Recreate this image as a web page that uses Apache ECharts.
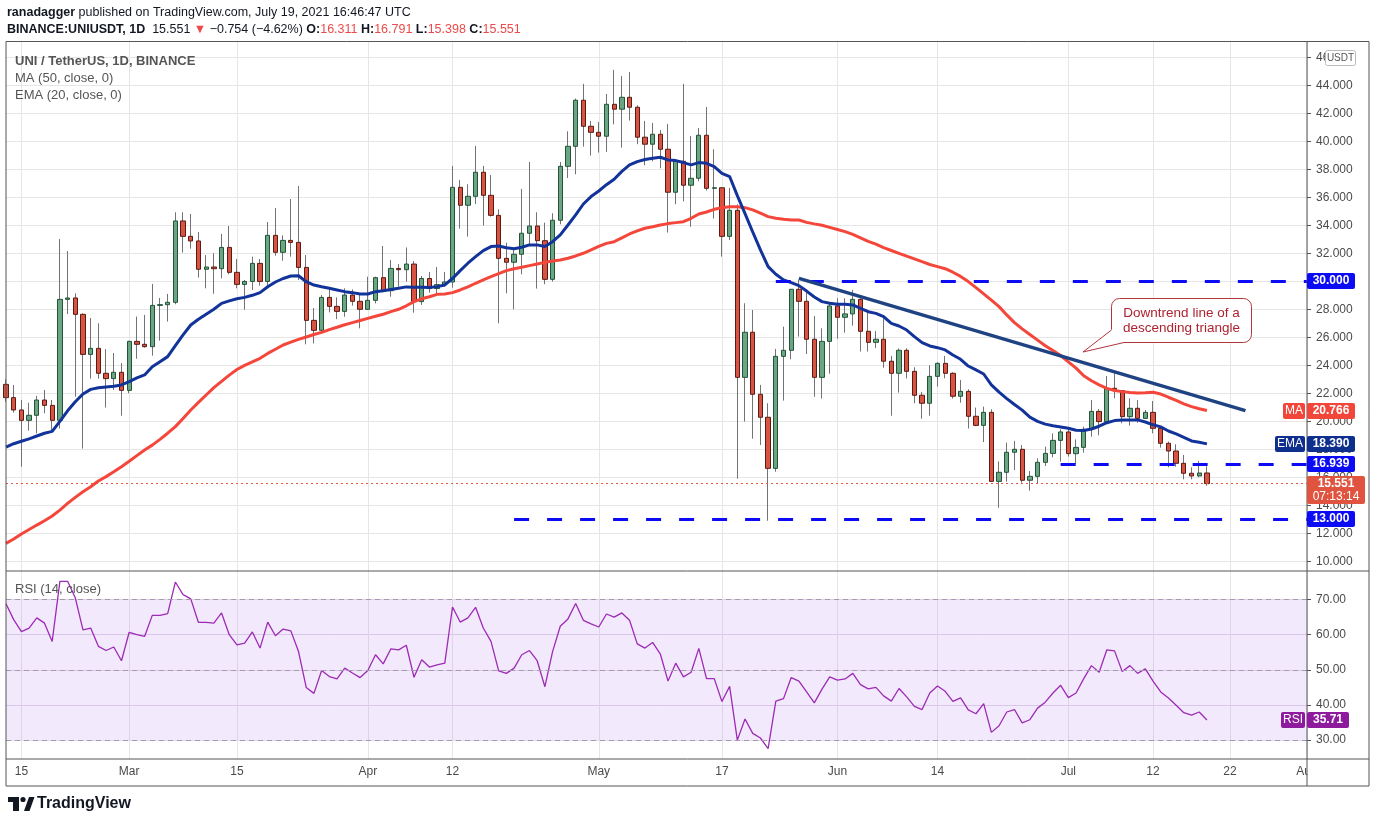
<!DOCTYPE html>
<html>
<head>
<meta charset="utf-8">
<title>UNI / TetherUS, 1D, BINANCE</title>
<script src="https://cdn.jsdelivr.net/npm/echarts@6/dist/echarts.min.js"></script>
<style>
html, body { margin: 0; padding: 0; background: #fff; }
#main { width: 1376px; height: 823px; }
</style>
</head>
<body>
<div id="main"></div>
<script>
// daily UNI/USDT candles, 2021-02-13 .. 2021-07-19
const opens = [
  22.64, 21.69, 20.81, 20.07, 20.43, 21.52, 21.14, 20.07, 28.71, 28.81,
  27.64, 24.78, 25.21, 23.43, 23.05, 23.5, 22.21, 25.71, 25.5, 25.33,
  28.28, 28.33, 28.5, 34.31, 33.21, 32.88, 30.86, 31.02, 30.9, 32.42,
  30.64, 29.78, 29.99, 31.28, 29.99, 33.28, 32.07, 32.92, 32.78, 30.99,
  27.21, 26.5, 28.85, 28.21, 27.85, 29.02, 28.57, 28.0, 28.64, 30.26,
  29.33, 30.92, 30.83, 31.23, 28.55, 30.2, 29.48, 29.76, 29.95, 36.71,
  35.43, 36.07, 37.79, 36.14, 34.71, 31.64, 31.36, 31.93, 33.43, 33.95,
  32.9, 30.14, 34.36, 38.21, 39.64, 42.93, 41.07, 40.64, 40.36, 42.64,
  42.29, 43.14, 42.43, 40.29, 39.79, 40.5, 39.43, 36.36, 38.57, 36.86,
  37.36, 40.43, 36.64, 36.68, 33.21, 35.07, 23.14, 26.36, 21.93, 20.29,
  16.64, 24.64, 25.07, 29.43, 28.57, 25.86, 23.14, 25.71, 28.24, 27.43,
  27.67, 28.71, 26.43, 25.64, 25.86, 24.29, 23.43, 25.07, 23.57, 21.86,
  21.29, 23.21, 24.14, 23.43, 21.79, 22.14, 20.36, 19.71, 20.64, 15.71,
  16.36, 17.79, 18.0, 15.79, 16.07, 17.07, 17.71, 18.64, 19.24, 17.69,
  18.14, 19.43, 20.71, 19.98, 22.36, 22.19, 20.33, 20.93, 20.21, 20.64,
  19.5, 18.43, 17.88, 17.0, 16.29, 16.1, 16.311
];
const closes = [
  21.69, 20.81, 20.07, 20.43, 21.52, 21.14, 20.07, 28.71, 28.81, 27.64,
  24.78, 25.21, 23.43, 23.05, 23.5, 22.21, 25.71, 25.5, 25.33, 28.28,
  28.33, 28.5, 34.31, 33.21, 32.88, 30.86, 31.02, 30.9, 32.42, 30.64,
  29.78, 29.99, 31.28, 29.99, 33.28, 32.07, 32.92, 32.78, 30.99, 27.21,
  26.5, 28.85, 28.21, 27.85, 29.02, 28.57, 28.0, 28.64, 30.26, 29.33,
  30.92, 30.83, 31.23, 28.55, 30.2, 29.48, 29.76, 29.95, 36.71, 35.43,
  36.07, 37.79, 36.14, 34.71, 31.64, 31.36, 31.93, 33.43, 33.95, 32.9,
  30.14, 34.36, 38.21, 39.64, 42.93, 41.07, 40.64, 40.36, 42.64, 42.29,
  43.14, 42.43, 40.29, 39.79, 40.5, 39.43, 36.36, 38.57, 36.86, 37.36,
  40.43, 36.64, 36.68, 33.21, 35.07, 23.14, 26.36, 21.93, 20.29, 16.64,
  24.64, 25.07, 29.43, 28.57, 25.86, 23.14, 25.71, 28.24, 27.43, 27.67,
  28.71, 26.43, 25.64, 25.86, 24.29, 23.43, 25.07, 23.57, 21.86, 21.29,
  23.21, 24.14, 23.43, 21.79, 22.14, 20.36, 19.71, 20.64, 15.71, 16.36,
  17.79, 18.0, 15.79, 16.07, 17.07, 17.71, 18.64, 19.24, 17.69, 18.14,
  19.43, 20.71, 19.98, 22.36, 22.19, 20.33, 20.93, 20.21, 20.64, 19.5,
  18.43, 17.88, 17.0, 16.29, 16.1, 16.311, 15.551
];
const lows = [
  21.4, 20.62, 16.76, 19.33, 19.14, 20.57, 19.33, 19.48, 27.66, 21.76,
  18.05, 23.05, 23.05, 20.98, 22.24, 20.4, 22.0, 24.47, 25.26, 24.69,
  25.76, 27.12, 28.36, 32.05, 32.33, 30.26, 29.5, 29.11, 30.21, 30.5,
  29.5, 27.97, 29.38, 29.69, 29.5, 31.83, 31.47, 31.76, 30.09, 25.5,
  25.57, 26.45, 27.78, 27.3, 27.47, 28.26, 26.64, 27.95, 28.42, 29.3,
  28.9, 29.61, 29.97, 27.76, 28.31, 29.19, 29.14, 29.62, 29.55, 33.76,
  33.19, 35.52, 33.98, 34.62, 27.0, 29.14, 28.0, 30.5, 32.57, 29.48,
  29.79, 29.98, 34.07, 37.38, 37.64, 39.62, 38.98, 39.19, 39.24, 41.21,
  39.55, 41.48, 39.79, 38.29, 38.57, 38.07, 33.48, 35.5, 35.71, 33.9,
  37.14, 36.48, 34.48, 31.76, 32.95, 15.9, 19.98, 18.76, 18.31, 12.9,
  16.4, 21.48, 24.43, 26.05, 24.81, 21.76, 21.62, 23.4, 25.9, 26.33,
  26.83, 24.98, 24.98, 25.24, 23.83, 20.4, 22.05, 23.07, 21.29, 20.19,
  20.4, 22.48, 23.07, 21.62, 21.33, 19.48, 19.65, 18.52, 15.69, 13.83,
  15.69, 16.52, 15.62, 15.05, 15.57, 16.81, 17.43, 17.12, 17.48, 16.93,
  17.76, 18.9, 19.0, 19.86, 21.64, 19.86, 19.69, 19.9, 20.18, 19.14,
  18.12, 16.71, 16.76, 15.86, 15.86, 16.0, 15.398
];
const highs = [
  23.0, 22.6, 21.52, 21.33, 21.81, 22.24, 21.52, 33.02, 32.16, 29.14,
  27.71, 27.38, 27.0, 25.16, 24.88, 24.16, 25.75, 27.48, 27.6, 29.81,
  28.81, 29.1, 34.93, 34.93, 34.81, 33.52, 31.88, 32.0, 33.38, 33.95,
  31.59, 30.09, 31.76, 31.59, 34.23, 35.23, 33.28, 35.88, 36.8, 31.88,
  28.09, 29.02, 29.54, 28.85, 29.5, 29.42, 29.02, 30.33, 30.33, 32.52,
  31.52, 31.23, 32.42, 31.45, 30.38, 30.67, 31.02, 30.67, 38.24, 37.24,
  36.93, 39.67, 38.24, 37.6, 35.14, 32.76, 32.29, 36.6, 38.52, 34.93,
  34.19, 34.86, 38.52, 40.71, 43.05, 44.1, 41.45, 41.38, 43.38, 45.1,
  44.67, 44.95, 42.57, 41.45, 41.31, 40.81, 41.24, 38.6, 44.1, 40.38,
  40.95, 42.45, 39.43, 36.7, 36.67, 35.5, 28.43, 27.95, 22.6, 21.29,
  25.17, 26.76, 29.45, 30.1, 29.38, 27.52, 26.64, 28.43, 28.79, 28.79,
  29.38, 28.79, 27.79, 26.45, 27.36, 24.67, 25.21, 25.21, 23.86, 22.1,
  24.0, 24.21, 24.67, 23.5, 22.95, 22.29, 20.98, 21.05, 20.86, 17.14,
  18.48, 18.6, 18.31, 16.45, 17.36, 18.19, 19.14, 19.43, 19.38, 18.71,
  19.62, 21.52, 20.88, 23.24, 23.43, 22.2, 21.64, 21.52, 20.81, 21.45,
  19.62, 18.55, 18.36, 17.6, 16.71, 17.17, 16.791
];
const ma50 = [
  11.28, 11.6, 11.95, 12.27, 12.59, 12.9, 13.24, 13.66, 14.14, 14.57,
  14.97, 15.33, 15.74, 16.05, 16.4, 16.76, 17.15, 17.55, 17.95, 18.3,
  18.71, 19.15, 19.62, 20.2, 20.81, 21.35, 21.88, 22.4, 22.85, 23.3,
  23.7, 24.0, 24.25, 24.5, 24.85, 25.15, 25.45, 25.65, 25.85, 26.02,
  26.2, 26.35, 26.55, 26.72, 26.9, 27.05, 27.2, 27.35, 27.5, 27.65,
  27.83, 28.0, 28.25, 28.55, 28.75, 28.9, 29.07, 29.1, 29.19, 29.38,
  29.6, 29.86, 30.1, 30.33, 30.55, 30.76, 30.9, 31.0, 31.12, 31.24,
  31.35, 31.45, 31.52, 31.65, 31.81, 32.0, 32.24, 32.5, 32.71, 32.83,
  33.1, 33.38, 33.6, 33.79, 33.9, 34.02, 34.12, 34.19, 34.26, 34.5,
  34.81, 34.95, 35.14, 35.25, 35.33, 35.33, 35.26, 35.1, 34.86, 34.62,
  34.5, 34.43, 34.38, 34.38, 34.21, 34.1, 34.0, 33.85, 33.7, 33.55,
  33.35, 33.1, 32.85, 32.65, 32.4, 32.2, 32.0, 31.8, 31.6, 31.4,
  31.2, 31.05, 30.9, 30.65, 30.35, 29.98, 29.55, 29.1, 28.65, 28.19,
  27.6, 27.05, 26.6, 26.2, 25.8, 25.4, 25.05, 24.7, 24.25, 23.8,
  23.25, 22.9, 22.6, 22.35, 22.2, 22.12, 22.06, 22.02, 22.04, 22.07,
  21.95, 21.72, 21.5, 21.25, 21.05, 20.9, 20.77
];
const ema20 = [
  18.15, 18.4, 18.58, 18.75, 18.95, 19.15, 19.28, 20.0, 20.75, 21.4,
  21.95, 22.28, 22.4, 22.45, 22.5, 22.6, 22.83, 23.1, 23.31, 23.9,
  24.26, 24.62, 25.4, 26.17, 26.88, 27.29, 27.65, 28.0, 28.42, 28.6,
  28.75, 28.85, 29.0, 29.19, 29.61, 29.95, 30.2, 30.38, 30.4, 29.97,
  29.73, 29.61, 29.5, 29.38, 29.26, 29.19, 29.09, 29.09, 29.26, 29.33,
  29.42, 29.5, 29.6, 29.57, 29.57, 29.55, 29.62, 29.74, 30.2, 30.76,
  31.29, 31.76, 32.19, 32.48, 32.52, 32.4, 32.33, 32.43, 32.6, 32.6,
  32.48, 32.83, 33.31, 34.02, 34.74, 35.52, 36.05, 36.45, 36.9, 37.29,
  37.85, 38.31, 38.55, 38.7, 38.79, 38.86, 38.67, 38.62, 38.48, 38.31,
  38.48, 38.43, 38.19, 37.71, 37.48, 36.12, 34.83, 33.52, 32.24, 31.05,
  30.5, 30.1, 29.9, 29.69, 29.3, 28.88, 28.55, 28.43, 28.36, 28.36,
  28.31, 28.07, 27.83, 27.71, 27.48, 27.0, 26.81, 26.52, 26.05, 25.62,
  25.38, 25.26, 25.1, 24.74, 24.43, 23.95, 23.67, 23.38, 22.6, 22.08,
  21.62, 21.2, 20.8, 20.3, 20.0, 19.8, 19.68, 19.6, 19.5, 19.36,
  19.35, 19.45, 19.65, 19.9, 20.05, 20.1, 20.1, 20.1, 19.95, 19.75,
  19.6, 19.31, 19.1, 18.85, 18.6, 18.5, 18.39
];
const rsi14 = [
  68.8, 64.3, 60.9, 61.9, 64.8, 63.3, 58.1, 75.2, 75.2, 70.5,
  61.4, 61.9, 56.7, 55.5, 56.5, 52.6, 60.7, 60.0, 59.5, 65.5,
  65.5, 66.0, 75.0, 71.4, 70.2, 63.5, 63.5, 63.3, 66.2, 60.0,
  57.1, 57.6, 60.8, 56.2, 63.6, 59.7, 61.6, 61.1, 55.2, 45.0,
  43.3, 49.8, 48.1, 47.4, 50.5, 49.1, 47.8, 49.8, 54.3, 51.7,
  56.0, 55.7, 57.0, 47.9, 52.9, 50.8, 51.4, 51.9, 67.9, 63.6,
  64.8, 67.8, 61.9, 58.1, 49.7, 49.0, 50.5, 54.3, 55.5, 52.6,
  45.2, 55.2, 62.4, 64.5, 68.9, 64.1, 63.1, 62.2, 65.9, 65.0,
  66.2, 64.1, 57.4, 56.2, 57.8, 54.5, 46.8, 51.9, 48.0, 49.3,
  56.1, 47.5, 47.5, 41.0, 45.3, 30.0, 36.0, 31.9, 30.6, 27.6,
  41.1, 41.8, 47.8, 46.8, 43.7, 40.6, 44.5, 48.0, 47.1, 47.4,
  49.0, 45.8, 44.6, 45.0, 42.6, 41.1, 44.7, 42.3, 39.6, 38.7,
  43.4, 45.4, 43.9, 41.0, 42.0, 38.6, 37.5, 40.4, 32.2, 34.1,
  38.0, 38.7, 34.9, 35.8, 39.1, 40.8, 43.4, 45.6, 42.1, 43.4,
  47.5, 51.2, 49.3, 55.7, 55.4, 49.5, 51.2, 49.0, 50.3, 46.8,
  43.7, 42.0, 39.9, 37.8, 37.1, 38.0, 35.71
];

const tickDates = ['2021-02-15', '2021-03-01', '2021-03-15', '2021-04-01', '2021-04-12', '2021-05-01',
  '2021-05-17', '2021-06-01', '2021-06-14', '2021-07-01', '2021-07-12', '2021-07-22', '2021-08-01'];
const tickLabels = ['15', 'Mar', '15', 'Apr', '12', 'May', '17', 'Jun', '14', 'Jul', '12', '22', 'Aug'];
const priceTicks = [10, 12, 14, 16, 18, 20, 22, 24, 26, 28, 30, 32, 34, 36, 38, 40, 42, 44, 46];
const rsiTicks = [30, 40, 50, 60, 70];

// drawn levels
const levelValues = [30, 16.939, 13];
const levelStarts = ['2021-05-24', '2021-06-30', '2021-04-20'];
const trendStart = ['2021-05-27', 30.21];
const trendEnd = ['2021-07-24', 20.76];
const lastPrice = 15.551, lastMA = 20.766, lastEMA = 18.390, lastRSI = 35.71;

// day categories from Feb 13 to Aug 1
const dates = [];
for (let i = 0; i < 170; i++) {
  dates.push(new Date(Date.UTC(2021, 1, 13 + i)).toISOString().slice(0, 10));
}
const lastDate = dates[dates.length - 1];

const candles = opens.map((o, i) => [o, closes[i], lows[i], highs[i]]);
const bodies = opens.map((o, i) => [o, closes[i], Math.min(o, closes[i]), Math.max(o, closes[i])]);

const FONT = '"Liberation Sans", Arial, sans-serif';
const showTick = (i, v) => tickDates.indexOf(v) >= 0;

const chart = echarts.init(document.getElementById('main'));

chart.setOption({
  animation: false,
  backgroundColor: '#ffffff',
  grid: [
    { left: 6, right: 69, top: 42, height: 529 },
    { left: 6, right: 69, top: 571, height: 188 }
  ],
  xAxis: [
    {
      type: 'category', gridIndex: 0, data: dates, boundaryGap: false,
      axisLine: { show: false }, axisTick: { show: false }, axisLabel: { show: false },
      splitLine: { show: true, interval: showTick, lineStyle: { color: '#e6e6e6' } }
    },
    {
      type: 'category', gridIndex: 1, data: dates, boundaryGap: false,
      axisLine: { show: false }, axisTick: { show: false },
      axisLabel: {
        interval: showTick, formatter: v => tickLabels[tickDates.indexOf(v)],
        color: '#4a4a4a', fontSize: 12, fontFamily: FONT, margin: 7
      },
      splitLine: { show: true, interval: showTick, lineStyle: { color: '#e6e6e6' } }
    }
  ],
  yAxis: [
    {
      type: 'value', gridIndex: 0, position: 'right', min: 9.31, max: 47.09,
      axisLine: { show: false },
      axisTick: { show: true, customValues: priceTicks, length: 4, lineStyle: { color: '#555' } },
      axisLabel: { customValues: priceTicks, formatter: v => v.toFixed(3), color: '#4a4a4a', fontSize: 12, fontFamily: FONT, margin: 9 },
      splitLine: { lineStyle: { color: '#e6e6e6' } }
    },
    {
      type: 'value', gridIndex: 1, position: 'right', min: 24.62, max: 78.14,
      axisLine: { show: false },
      axisTick: { show: true, customValues: rsiTicks, length: 4, lineStyle: { color: '#555' } },
      axisLabel: { customValues: rsiTicks, formatter: v => v.toFixed(2), color: '#4a4a4a', fontSize: 12, fontFamily: FONT, margin: 9 },
      splitLine: { lineStyle: { color: '#e2d6ea' } }
    }
  ],
  series: [
    {
      name: 'wicks', type: 'candlestick', xAxisIndex: 0, yAxisIndex: 0, silent: true, clip: true,
      barWidth: 1, data: candles, z: 2,
      itemStyle: { color: '#737375', color0: '#737375', borderColor: '#737375', borderColor0: '#737375', borderColorDoji: '#737375', borderWidth: 1 }
    },
    {
      name: 'UNIUSDT', type: 'candlestick', xAxisIndex: 0, yAxisIndex: 0, silent: true, clip: true,
      barWidth: 4.8, data: bodies, z: 3,
      itemStyle: { color: '#6ba583', color0: '#d75442', borderColor: '#225437', borderColor0: '#5b1a13', borderColorDoji: '#225437', borderWidth: 1 },
      markLine: {
        silent: true, symbol: ['none', 'none'], animation: false, label: { show: false },
        data: levelValues.map((v, i) => [
          { coord: [levelStarts[i], v], lineStyle: { color: '#0b0bf5', width: 3, type: [15, 18] } },
          { coord: [lastDate, v] }
        ]).concat([
          [{ coord: trendStart, lineStyle: { color: '#1f4282', width: 3.5, type: 'solid' } }, { coord: trendEnd }],
          { yAxis: lastPrice, lineStyle: { color: '#e8553f', width: 1, type: [2, 3] } }
        ])
      }
    },
    {
      name: 'MA (50, close, 0)', type: 'line', xAxisIndex: 0, yAxisIndex: 0, data: ma50,
      showSymbol: false, silent: true, z: 4, lineStyle: { color: '#f4463a', width: 3 }
    },
    {
      name: 'EMA (20, close, 0)', type: 'line', xAxisIndex: 0, yAxisIndex: 0, data: ema20,
      showSymbol: false, silent: true, z: 4, lineStyle: { color: '#12349a', width: 3 }
    },
    {
      name: 'RSI (14, close)', type: 'line', xAxisIndex: 1, yAxisIndex: 1, data: rsi14,
      showSymbol: false, silent: true, z: 4, lineStyle: { color: '#9c2bb4', width: 1.3 },
      markArea: { silent: true, itemStyle: { color: 'rgba(175,105,235,0.15)' }, data: [[{ yAxis: 30 }, { yAxis: 70 }]] },
      markLine: {
        silent: true, symbol: ['none', 'none'], label: { show: false },
        lineStyle: { color: '#a39cab', width: 1, type: [5, 4] },
        data: [{ yAxis: 30 }, { yAxis: 50 }, { yAxis: 70 }]
      }
    }
  ]
});

// overlay: header, legends, frame, price badges, annotation
const T = (x, y, text, extra) => ({
  type: 'text', x: x, y: y, z: 140, silent: true,
  style: Object.assign({ text: text, fontSize: 13, fontFamily: FONT, fill: '#131722', textVerticalAlign: 'middle' }, extra || {})
});
const L = (x1, y1, x2, y2) => ({
  type: 'line', z: 110, silent: true, shape: { x1: x1, y1: y1, x2: x2, y2: y2 },
  style: { stroke: '#555', lineWidth: 1 }
});
const HF = 12.5;
const rich = {
  b: { fontWeight: 'bold', fontSize: HF, fontFamily: FONT, fill: '#131722', color: '#131722' },
  r: { fontSize: HF, fontFamily: FONT, fill: '#ec4a4a', color: '#ec4a4a' }
};

const py = v => chart.convertToPixel({ yAxisIndex: 0 }, v);
const ry = v => chart.convertToPixel({ yAxisIndex: 1 }, v);

const AX = 1307;
function badge(y, text, bg, w, tag, tagW) {
  const yy = Math.round(y);
  const out = [
    { type: 'rect', z: 130, silent: true, shape: { x: AX, y: yy - 8, width: w, height: 16, r: 2 }, style: { fill: bg } },
    T(AX + w / 2, yy, text, { fill: '#fff', fontWeight: 'bold', fontSize: 12, textAlign: 'center' })
  ];
  if (tag) {
    out.push({ type: 'rect', z: 130, silent: true, shape: { x: AX - 2 - tagW, y: yy - 8, width: tagW, height: 16, r: 2 }, style: { fill: bg } });
    out.push(T(AX - 2 - tagW / 2, yy, tag, { fill: '#fff', fontSize: 12, textAlign: 'center' }));
  }
  return out;
}

const gfx = [
  T(7, 13, '{b|ranadagger} published on TradingView.com, July 19, 2021 16:46:47 UTC', { rich: rich, fontSize: HF }),
  T(7, 30, '{b|BINANCE:UNIUSDT, 1D}  15.551 {r|\u25BC} \u22120.754 (\u22124.62%) {b|O:}{r|16.311} {b|H:}{r|16.791} {b|L:}{r|15.398} {b|C:}{r|15.551}', { rich: rich, fontSize: HF }),
  T(15, 61, 'UNI / TetherUS, 1D, BINANCE', { fill: '#555', fontWeight: 'bold' }),
  T(15, 78, 'MA (50, close, 0)', { fill: '#555' }),
  T(15, 95, 'EMA (20, close, 0)', { fill: '#555' }),
  T(15, 589, 'RSI (14, close)', { fill: '#555' }),
  // time axis tail under the price scale
  { type: 'rect', z: 105, silent: true, shape: { x: AX + 0.5, y: 760, width: 61, height: 25 }, style: { fill: '#fff' } },
  // frame
  L(6, 41.5, 1369, 41.5), L(6, 41.5, 6, 786), L(1369, 41.5, 1369, 786), L(6, 786, 1369, 786),
  L(AX, 41.5, AX, 786), L(6, 571, 1369, 571), L(6, 759, 1369, 759),
  // USDT box
  { type: 'rect', z: 125, silent: true, shape: { x: 1325.5, y: 50.5, width: 30, height: 15, r: 2 }, style: { fill: '#fff', stroke: '#bbb', lineWidth: 1 } },
  T(1340.5, 58, 'USDT', { fill: '#555', fontSize: 10, textAlign: 'center' }),
  // annotation callout
  { type: 'rect', z: 125, silent: true, shape: { x: 1111.5, y: 298.5, width: 140, height: 44, r: 8 }, style: { fill: '#fff', stroke: '#b0363b', lineWidth: 1 } },
  { type: 'polygon', z: 126, silent: true, shape: { points: [[1110.6, 329.5], [1083, 352], [1124, 343.4], [1124, 330]] }, style: { fill: '#fff' } },
  { type: 'polyline', z: 127, silent: true, shape: { points: [[1111.5, 330], [1083, 352], [1124, 342.5]] }, style: { stroke: '#b0363b', lineWidth: 1, fill: null } },
  T(1181.5, 313, 'Downtrend line of a', { fill: '#ad2330', textAlign: 'center', fontSize: 13.5 }),
  T(1181.5, 328, 'descending triangle', { fill: '#ad2330', textAlign: 'center', fontSize: 13.5 }),
  // TradingView mark
  { type: 'rect', z: 120, silent: true, shape: { x: 8, y: 797, width: 11, height: 5 }, style: { fill: '#131722' } },
  { type: 'rect', z: 120, silent: true, shape: { x: 13, y: 797, width: 6, height: 14 }, style: { fill: '#131722' } },
  { type: 'circle', z: 120, silent: true, shape: { cx: 23, cy: 799.5, r: 2.6 }, style: { fill: '#131722' } },
  { type: 'polygon', z: 120, silent: true, shape: { points: [[24, 811], [29, 797], [34.5, 797], [29.5, 811]] }, style: { fill: '#131722' } },
  T(37, 804, 'TradingView', { fontSize: 16, fontWeight: 'bold' })
];

levelValues.forEach(v => { gfx.push(...badge(py(v), v.toFixed(3), '#0b0bf5', 48)); });
gfx.push(...badge(py(lastMA), lastMA.toFixed(3), '#f2463a', 48, 'MA', 22));
gfx.push(...badge(py(lastEMA), lastEMA.toFixed(3), '#0f2f8f', 48, 'EMA', 30));
// last price with countdown
const yp = Math.round(py(lastPrice));
gfx.push({ type: 'rect', z: 130, silent: true, shape: { x: AX, y: yp - 8, width: 58, height: 28, r: 2 }, style: { fill: '#e0533f' } });
gfx.push(T(AX + 29, yp, lastPrice.toFixed(3), { fill: '#fff', fontWeight: 'bold', fontSize: 12, textAlign: 'center' }));
gfx.push(T(AX + 29, yp + 13, '07:13:14', { fill: '#fff', fontSize: 12, textAlign: 'center' }));
gfx.push(...badge(ry(lastRSI), lastRSI.toFixed(2), '#8e1b9e', 42, 'RSI', 24));

chart.setOption({ graphic: gfx });
</script>
</body>
</html>
